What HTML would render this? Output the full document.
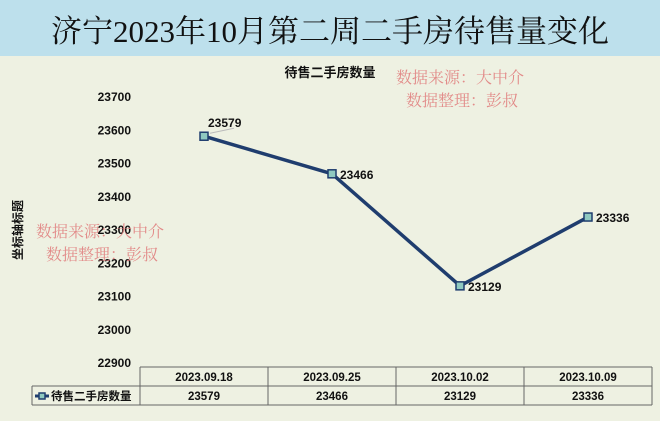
<!DOCTYPE html>
<html><head><meta charset="utf-8">
<style>
body{margin:0;width:660px;height:421px;overflow:hidden;background:#eef1e2;font-family:"Liberation Sans","Noto Sans CJK SC",sans-serif;}
svg{display:block}
</style></head>
<body>
<svg id="c" width="660" height="421" xmlns="http://www.w3.org/2000/svg">
<rect x="0" y="0" width="660" height="421" fill="#eef1e2"/>
<rect x="0" y="0" width="660" height="56" fill="#bde0ec"/>
<text x="330" y="42" text-anchor="middle" font-family="'Liberation Serif','Noto Serif CJK SC',serif" font-size="31" fill="#111">济宁2023年10月第二周二手房待售量变化</text>
<text x="330" y="77" text-anchor="middle" font-size="13" font-weight="bold" fill="#111">待售二手房数量</text>
<g font-family="'Noto Serif CJK SC',serif" font-size="16" fill="#e07a7a" opacity="0.85">
<text x="396" y="83">数据来源：大中介</text>
<text x="406" y="106">数据整理：彭叔</text>
</g>
<text transform="translate(22,230) rotate(-90)" text-anchor="middle" font-size="12" font-weight="bold" fill="#111">坐标轴标题</text>
<g id="yt"></g>
<g id="tbl"></g>
<g id="series"></g>
<g font-family="'Noto Serif CJK SC',serif" font-size="16" fill="#e07a7a" opacity="0.85">
<text x="36" y="237">数据来源：大中介</text>
<text x="46" y="260">数据整理：彭叔</text>
</g>
</svg>
<script>
const categories=["2023.09.18","2023.09.25","2023.10.02","2023.10.09"];
const values=[23579,23466,23129,23336];
const yTicks=[22900,23000,23100,23200,23300,23400,23500,23600,23700];
const seriesName="待售二手房数量";
const NS="http://www.w3.org/2000/svg";
const yMin=22900,yMax=23700,yTop=96,yBot=362;
const x0=140,colW=128;
function yS(v){return yBot-(v-yMin)/(yMax-yMin)*(yBot-yTop);}
function xS(i){return x0+colW*(i+0.5);}
function mk(t,a,p){const e=document.createElementNS(NS,t);for(const k in a)e.setAttribute(k,a[k]);p.appendChild(e);return e;}
const yt=document.getElementById('yt');
yTicks.forEach(v=>{const t=mk('text',{x:131,y:yS(v)+5,'text-anchor':'end','font-size':12,'font-weight':'bold',fill:'#111'},yt);


t.textContent=v;});
const tb=document.getElementById('tbl');
const r0=367,r1=386,r2=405,xl=32,xr=x0+colW*categories.length;
[[x0,r0,xr,r0],[xl,r1,xr,r1],[xl,r2,xr,r2],[xl,r1,xl,r2]].forEach(l=>{const e=mk('line',{x1:l[0],y1:l[1],x2:l[2],y2:l[3],stroke:'#666','stroke-width':1},tb);

});
for(let i=0;i<=categories.length;i++){const e=mk('line',{x1:x0+colW*i,y1:r0,x2:x0+colW*i,y2:r2,stroke:'#666','stroke-width':1},tb);

}
categories.forEach((c,i)=>{const t=mk('text',{x:xS(i),y:r0+14,'text-anchor':'middle','font-size':11.5,'font-weight':'bold',fill:'#111'},tb);


t.textContent=c;
const v=mk('text',{x:xS(i),y:r1+14,'text-anchor':'middle','font-size':11.5,'font-weight':'bold',fill:'#111'},tb);


v.textContent=values[i];});
const lk=mk('line',{x1:35,y1:r1+10,x2:49,y2:r1+10,stroke:'#1f3d6e','stroke-width':3},tb);


const lm=mk('rect',{x:39,y:r1+7,width:6,height:6,fill:'#8fc9c0',stroke:'#1f3d6e','stroke-width':1.5},tb);


const lt=mk('text',{x:51,y:r1+14,'font-size':11.5,'font-weight':'bold',fill:'#111'},tb);


lt.textContent=seriesName;
const sg=document.getElementById('series');
const pts=values.map((v,i)=>xS(i)+','+yS(v)).join(' ');
const pl=mk('polyline',{points:pts,fill:'none',stroke:'#1f3d6e','stroke-width':3.5,'stroke-linejoin':'round'},sg);


values.forEach((v,i)=>{const x=xS(i),y=yS(v);
const m=mk('rect',{x:x-4,y:y-4,width:8,height:8,fill:'#8fc9c0',stroke:'#1f3d6e','stroke-width':1.5},sg);


let tx,ty;
if(i===0){tx=x+4;ty=y-9;mk('line',{x1:x+6,y1:y-3,x2:x+30,y2:y-8,stroke:'#bbb','stroke-width':1},sg);}
else{tx=x+8;ty=y+5;}
const t=mk('text',{x:tx,y:ty,'font-size':12,'font-weight':'bold',fill:'#111'},sg);


t.textContent=v;});
</script>
</body></html>
